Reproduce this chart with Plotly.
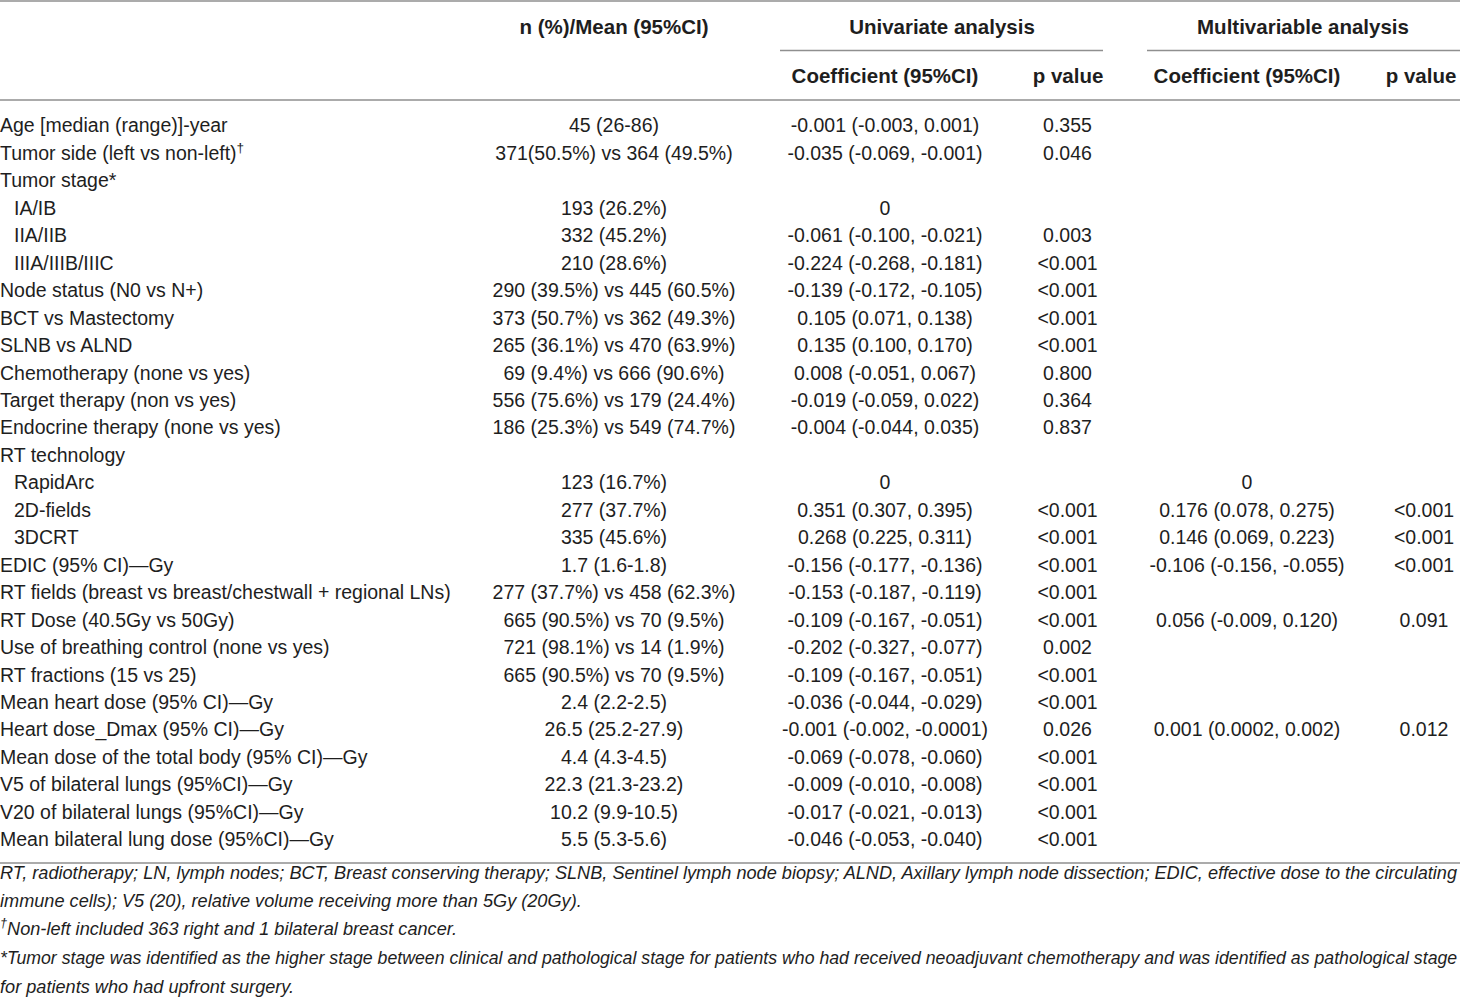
import plotly.graph_objects as go

# table rows (label, indent flag, n(%)/mean, univariate, multivariable)
labels = [
    "Age [median (range)]-year",
    "Tumor side (left vs non-left)<sup>†</sup>",
    "Tumor stage*",
    "IA/IB",
    "IIA/IIB",
    "IIIA/IIIB/IIIC",
    "Node status (N0 vs N+)",
    "BCT vs Mastectomy",
    "SLNB vs ALND",
    "Chemotherapy (none vs yes)",
    "Target therapy (non vs yes)",
    "Endocrine therapy (none vs yes)",
    "RT technology",
    "RapidArc",
    "2D-fields",
    "3DCRT",
    "EDIC (95% CI)—Gy",
    "RT fields (breast vs breast/chestwall + regional LNs)",
    "RT Dose (40.5Gy vs 50Gy)",
    "Use of breathing control (none vs yes)",
    "RT fractions (15 vs 25)",
    "Mean heart dose (95% CI)—Gy",
    "Heart dose_Dmax (95% CI)—Gy",
    "Mean dose of the total body (95% CI)—Gy",
    "V5 of bilateral lungs (95%CI)—Gy",
    "V20 of bilateral lungs (95%CI)—Gy",
    "Mean bilateral lung dose (95%CI)—Gy",
]
indent = [0, 0, 0, 1, 1, 1, 0, 0, 0, 0, 0, 0, 0, 1, 1, 1,
          0, 0, 0, 0, 0, 0, 0, 0, 0, 0, 0]

n_mean = [
    "45 (26-86)", "371(50.5%) vs 364 (49.5%)", "",
    "193 (26.2%)", "332 (45.2%)", "210 (28.6%)",
    "290 (39.5%) vs 445 (60.5%)", "373 (50.7%) vs 362 (49.3%)",
    "265 (36.1%) vs 470 (63.9%)", "69 (9.4%) vs 666 (90.6%)",
    "556 (75.6%) vs 179 (24.4%)", "186 (25.3%) vs 549 (74.7%)", "",
    "123 (16.7%)", "277 (37.7%)", "335 (45.6%)",
    "1.7 (1.6-1.8)", "277 (37.7%) vs 458 (62.3%)", "665 (90.5%) vs 70 (9.5%)",
    "721 (98.1%) vs 14 (1.9%)", "665 (90.5%) vs 70 (9.5%)",
    "2.4 (2.2-2.5)", "26.5 (25.2-27.9)", "4.4 (4.3-4.5)",
    "22.3 (21.3-23.2)", "10.2 (9.9-10.5)", "5.5 (5.3-5.6)",
]

uni_coef = [
    "-0.001 (-0.003, 0.001)", "-0.035 (-0.069, -0.001)", "",
    "0", "-0.061 (-0.100, -0.021)", "-0.224 (-0.268, -0.181)",
    "-0.139 (-0.172, -0.105)", "0.105 (0.071, 0.138)", "0.135 (0.100, 0.170)",
    "0.008 (-0.051, 0.067)", "-0.019 (-0.059, 0.022)", "-0.004 (-0.044, 0.035)", "",
    "0", "0.351 (0.307, 0.395)", "0.268 (0.225, 0.311)",
    "-0.156 (-0.177, -0.136)", "-0.153 (-0.187, -0.119)", "-0.109 (-0.167, -0.051)",
    "-0.202 (-0.327, -0.077)", "-0.109 (-0.167, -0.051)", "-0.036 (-0.044, -0.029)",
    "-0.001 (-0.002, -0.0001)", "-0.069 (-0.078, -0.060)", "-0.009 (-0.010, -0.008)",
    "-0.017 (-0.021, -0.013)", "-0.046 (-0.053, -0.040)",
]
uni_p = [
    "0.355", "0.046", "", "", "0.003", "&lt;0.001", "&lt;0.001", "&lt;0.001",
    "&lt;0.001", "0.800", "0.364", "0.837", "", "", "&lt;0.001", "&lt;0.001",
    "&lt;0.001", "&lt;0.001", "&lt;0.001", "0.002", "&lt;0.001", "&lt;0.001",
    "0.026", "&lt;0.001", "&lt;0.001", "&lt;0.001", "&lt;0.001",
]

multi_coef = [""] * 13 + [
    "0", "0.176 (0.078, 0.275)", "0.146 (0.069, 0.223)",
    "-0.106 (-0.156, -0.055)", "", "0.056 (-0.009, 0.120)", "", "", "",
    "0.001 (0.0002, 0.002)", "", "", "", "",
]
multi_p = [""] * 14 + [
    "&lt;0.001", "&lt;0.001", "&lt;0.001", "", "0.091", "", "", "",
    "0.012", "", "", "", "",
]

header_top = ["n (%)/Mean (95%CI)", "Univariate analysis", "Multivariable analysis"]
header_sub = ["Coefficient (95%CI)", "p value", "Coefficient (95%CI)", "p value"]

footnotes = [
    "RT, radiotherapy; LN, lymph nodes; BCT, Breast conserving therapy; SLNB, Sentinel lymph node biopsy; "
    "ALND, Axillary lymph node dissection; EDIC, effective dose to the circulating",
    "immune cells); V5 (20), relative volume receiving more than 5Gy (20Gy).",
    "<sup>†</sup>Non-left included 363 right and 1 bilateral breast cancer.",
    "*Tumor stage was identified as the higher stage between clinical and pathological stage for patients "
    "who had received neoadjuvant chemotherapy and was identified as pathological stage",
    "for patients who had upfront surgery.",
]
foot_size = [18.15, 18.15, 18.15, 17.72, 18.15]

# layout (pixels across, rows down)
W, H = 1460, 999
ROW0, PITCH = 127.5, 27.46
SHIFT = 1.5  # text baseline nudge


def row(py):
    return (py - ROW0) / PITCH


ink = "#1e1e1e"
FAM = "Liberation Sans, Arial, sans-serif"
body = dict(family=FAM, size=19.5, color=ink)
bold = dict(family=FAM, size=20.5, color=ink, weight="bold")

fig = go.Figure()


def col(x, texts, ys, pos="middle center", font=body):
    keep = [i for i, t in enumerate(texts) if t]
    fig.add_trace(go.Scatter(
        x=[x] * len(keep), y=[ys[i] for i in keep], text=[texts[i] for i in keep],
        mode="text", textposition=pos, textfont=font, cliponaxis=False,
        hoverinfo="skip", showlegend=False,
    ))


rows = list(range(len(labels)))

# label column: plain and indented rows
col(0, [t if not d else "" for t, d in zip(labels, indent)], rows, "middle right")
col(14, [t if d else "" for t, d in zip(labels, indent)], rows, "middle right")

col(614, n_mean, rows)
col(885, uni_coef, rows)
col(1067.5, uni_p, rows)
col(1247, multi_coef, rows)
col(1424, multi_p, rows)

# headers
y_h1, y_h2 = row(27 + SHIFT), row(76 + SHIFT)
for x, t in zip([614, 942, 1303], header_top):
    col(x, [t], [y_h1], font=bold)
for x, t in zip([885, 1068, 1247, 1421], header_sub):
    col(x, [t], [y_h2], font=bold)

# footnotes
foot_y = [row(p + SHIFT) for p in (873, 901, 929, 958, 987)]
col(0, footnotes, foot_y, "middle right",
    font=dict(family=FAM, size=foot_size, color=ink, style="italic"))

# horizontal rules
rule = dict(color="#8f8f8f", width=1.6)
for x0, x1, py in [(0, W, 1), (780, 1103, 50.5), (1147, W, 50.5),
                   (0, W, 100), (0, W, 863)]:
    fig.add_shape(type="line", xref="x", yref="y", x0=x0, x1=x1,
                  y0=row(py), y1=row(py), line=rule)

fig.update_xaxes(range=[0, W], visible=False, fixedrange=True)
fig.update_yaxes(range=[row(H), row(0)], visible=False, fixedrange=True)
fig.update_layout(
    width=W, height=H, margin=dict(l=0, r=0, t=0, b=0),
    paper_bgcolor="white", plot_bgcolor="white",
)

fig.write_html("out.html", config={"displayModeBar": False},
               post_script="document.body.style.margin='0px';")
